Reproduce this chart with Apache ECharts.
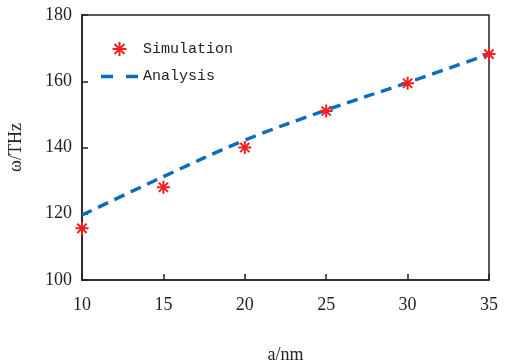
<!DOCTYPE html>
<html><head><meta charset="utf-8">
<script src="https://cdn.jsdelivr.net/npm/echarts@6/dist/echarts.min.js"></script>
<style>html,body{margin:0;padding:0;background:#fff}#c{width:509px;height:364px}</style>
</head><body><div id="c"></div>
<script>
const simX = [10, 15, 20, 25, 30, 35];
const simY = [115.6, 128, 140, 151, 159.4, 168.2];
const anaX = [10, 15, 20, 25, 30, 35];
const anaY = [119.6, 131.2, 142.2, 151.3, 159.6, 168.2];
const xTicks = [10, 15, 20, 25, 30, 35];
const yTicks = [100, 120, 140, 160, 180];

const FONT = 'Liberation Serif';
const BLUE = '#0a6cbc';
const RED = '#f02020';
const star = 'path://M0,-10L0,10M-10,0L10,0M-7.07,-7.07L7.07,7.07M-7.07,7.07L7.07,-7.07';
const dashIcon = 'path://M0,0H12V3.4H0ZM25,0H37V3.4H25Z';
const chart = echarts.init(document.getElementById('c'));
chart.setOption({
  animation: false,
  grid: { left: 82, right: 20, top: 15, bottom: 84, show: true, borderColor: '#222', borderWidth: 1.5,
          containLabel: false, outerBoundsMode: 'none' },
  legend: {
    orient: 'vertical', left: 96, top: 36, itemWidth: 37, itemHeight: 14, itemGap: 12,
    textStyle: { fontFamily: 'Liberation Mono', fontSize: 15, color: '#222' },
    data: [
      { name: 'Simulation', icon: star, itemStyle: { color: RED, borderColor: RED, borderWidth: 2 } },
      { name: 'Analysis', icon: dashIcon, itemStyle: { color: BLUE, borderWidth: 0 } }
    ]
  },
  xAxis: {
    type: 'value', min: xTicks[0], max: xTicks[xTicks.length - 1], interval: 5,
    name: 'a/nm', nameLocation: 'middle', nameGap: 66,
    nameTextStyle: { fontFamily: FONT, fontSize: 18, color: '#222' },
    axisLine: { lineStyle: { color: '#222', width: 1.5 } },
    axisTick: { inside: true, length: 6, lineStyle: { color: '#222', width: 1.5 } },
    axisLabel: { fontFamily: FONT, fontSize: 18, color: '#222', margin: 16 },
    splitLine: { show: false }
  },
  yAxis: {
    type: 'value', min: yTicks[0], max: yTicks[yTicks.length - 1], interval: 20,
    name: 'ω/THz', nameLocation: 'middle', nameGap: 57, nameRotate: 90,
    nameTextStyle: { fontFamily: FONT, fontSize: 18, color: '#222' },
    axisLine: { lineStyle: { color: '#222', width: 1.5 } },
    axisTick: { inside: true, length: 6, lineStyle: { color: '#222', width: 1.5 } },
    axisLabel: { fontFamily: FONT, fontSize: 18, color: '#222', margin: 10 },
    splitLine: { show: false }
  },
  series: [
    {
      name: 'Analysis', type: 'line', smooth: 0.4, showSymbol: false, symbol: 'none',
      data: anaX.map((x, i) => [x, anaY[i]]),
      lineStyle: { color: BLUE, width: 3.4, type: [11, 7] },
      itemStyle: { color: BLUE },
      z: 2
    },
    {
      name: 'Simulation', type: 'scatter', symbol: star, symbolSize: 13, symbolKeepAspect: true,
      data: simX.map((x, i) => [x, simY[i]]),
      itemStyle: { color: RED, borderColor: RED, borderWidth: 2, opacity: 1 },
      clip: false,
      z: 3
    }
  ]
});
</script></body></html>
